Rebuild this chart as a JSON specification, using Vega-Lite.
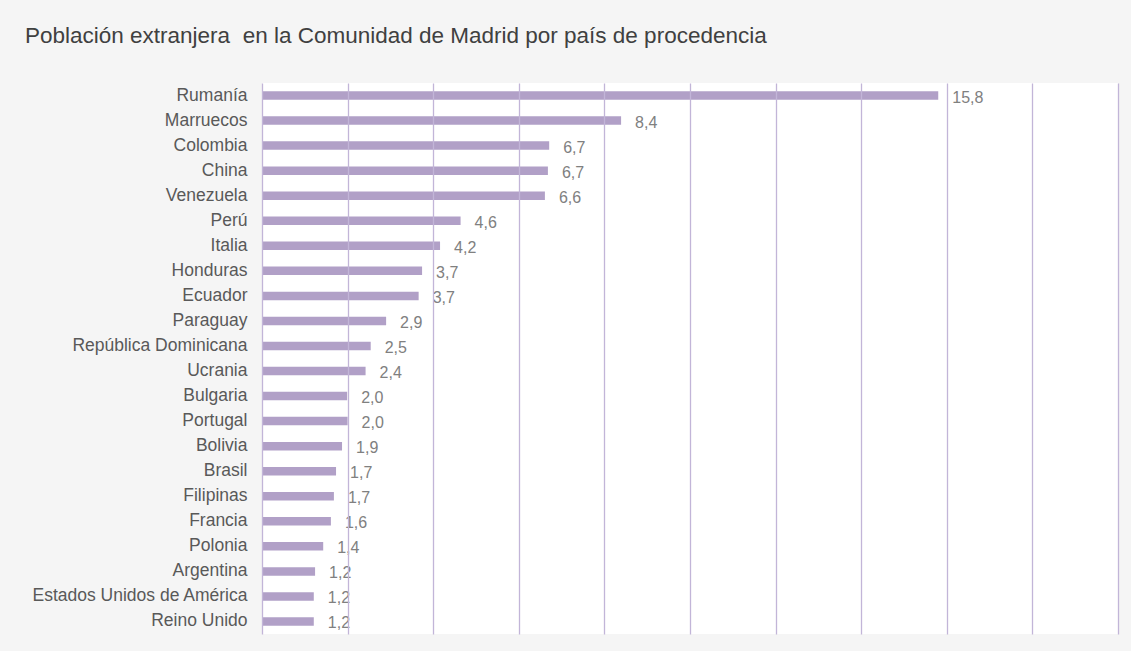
{
  "$schema": "https://vega.github.io/schema/vega-lite/v6.json",
  "autosize": {"type": "none"},
  "padding": {"left": 262, "top": 83, "right": 13, "bottom": 17},
  "width": 856,
  "height": 551,
  "background": "#f5f5f5",
  "title": {
    "text": "Población extranjera \u00a0en la Comunidad de Madrid por país de procedencia",
    "anchor": "start",
    "frame": "group",
    "dx": -237,
    "dy": 21,
    "offset": 39,
    "baseline": "alphabetic",
    "font": "Liberation Sans",
    "fontSize": 22.5,
    "fontWeight": "normal",
    "color": "#404040"
  },
  "data": {
    "values": [
      {"pais": "Rumanía", "valor": 15.8},
      {"pais": "Marruecos", "valor": 8.39},
      {"pais": "Colombia", "valor": 6.71},
      {"pais": "China", "valor": 6.68},
      {"pais": "Venezuela", "valor": 6.61},
      {"pais": "Perú", "valor": 4.64},
      {"pais": "Italia", "valor": 4.16},
      {"pais": "Honduras", "valor": 3.74},
      {"pais": "Ecuador", "valor": 3.66},
      {"pais": "Paraguay", "valor": 2.9},
      {"pais": "República Dominicana", "valor": 2.54},
      {"pais": "Ucrania", "valor": 2.42},
      {"pais": "Bulgaria", "valor": 1.99},
      {"pais": "Portugal", "valor": 2.0},
      {"pais": "Bolivia", "valor": 1.87},
      {"pais": "Brasil", "valor": 1.73},
      {"pais": "Filipinas", "valor": 1.68},
      {"pais": "Francia", "valor": 1.61},
      {"pais": "Polonia", "valor": 1.43},
      {"pais": "Argentina", "valor": 1.24},
      {"pais": "Estados Unidos de América", "valor": 1.21},
      {"pais": "Reino Unido", "valor": 1.21}
    ]
  },
  "encoding": {
    "y": {
      "field": "pais",
      "type": "nominal",
      "sort": null,
      "scale": {"paddingInner": 0.66, "paddingOuter": 0.33},
      "axis": {
        "title": null,
        "ticks": false,
        "domain": false,
        "grid": false,
        "labelFont": "Liberation Sans",
        "labelFontSize": 17.5,
        "labelColor": "#595959",
        "labelPadding": 15,
        "labelLimit": 0
      }
    },
    "x": {
      "field": "valor",
      "type": "quantitative",
      "scale": {"domain": [0, 20], "nice": false},
      "axis": {
        "title": null,
        "values": [0, 2, 4, 6, 8, 10, 12, 14, 16, 18, 20],
        "labels": false,
        "ticks": false,
        "domain": false,
        "grid": true,
        "gridColor": "#c2b5d8",
        "gridWidth": 1.3,
        "zindex": 1
      }
    }
  },
  "layer": [
    {"mark": {"type": "bar", "color": "#b1a0c7"}},
    {
      "mark": {
        "type": "text",
        "align": "left",
        "baseline": "middle",
        "dx": 14,
        "dy": 2,
        "font": "Liberation Sans",
        "fontSize": 16,
        "color": "#808080"
      },
      "encoding": {
        "text": {"field": "valor", "type": "quantitative", "format": ".1f"}
      }
    }
  ],
  "config": {
    "view": {"fill": "#ffffff", "stroke": null},
    "locale": {
      "number": {"decimal": ",", "thousands": ".", "grouping": [3], "currency": ["", " €"]}
    }
  }
}
